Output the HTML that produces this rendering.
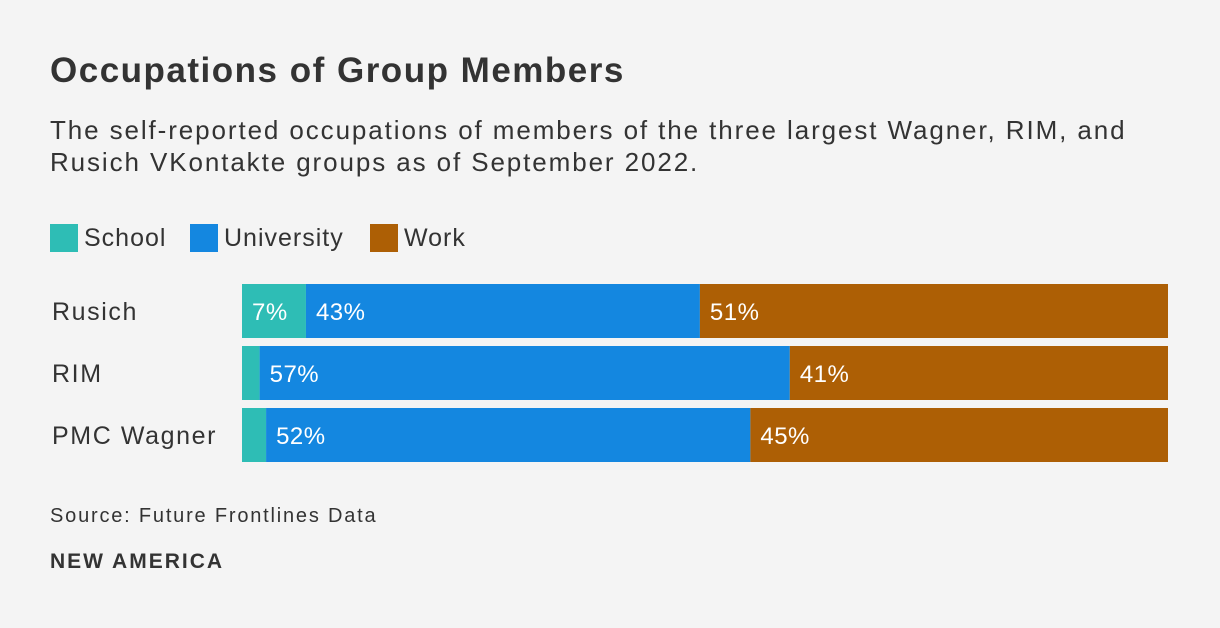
<!DOCTYPE html>
<html><head><meta charset="utf-8"><style>
body{margin:0;background:#f4f4f4;font-family:"Liberation Sans",sans-serif;color:#333;}
#wrap{position:relative;width:1220px;height:628px;overflow:hidden;}
.t{position:absolute;white-space:nowrap;}
</style></head><body>
<div id="wrap">
<div class="t" style="left:50px;top:51px;font-size:35px;letter-spacing:1.5px;font-weight:bold;color:#333;">Occupations of Group Members</div>
<div class="t" style="left:50px;top:114px;font-size:26px;letter-spacing:1.9px;line-height:32px;color:#333;">The self-reported occupations of members of the three largest Wagner, RIM, and<br>Rusich VKontakte groups as of September 2022.</div>
<svg id="chart" width="1220" height="628" style="position:absolute;left:0;top:0"></svg>
<div class="t" style="left:50px;top:505px;font-size:20px;letter-spacing:1.8px;color:#333;">Source: Future Frontlines Data</div>
<div class="t" style="left:50px;top:550px;font-size:21px;letter-spacing:2px;font-weight:bold;color:#333;">NEW AMERICA</div>
</div>
<script>
const categories=["Rusich","RIM","PMC Wagner"];
const seriesNames=["School","University","Work"];
const school=[6.9,1.9,2.6];
const university=[42.5,57.2,52.3];
const work=[50.5,40.8,45.1];
const colors=["#2ebdb5","#1487e0","#ad5f05"];
const NS="http://www.w3.org/2000/svg";
const svg=document.getElementById("chart");
const x0=242,x1=1168,yTop=284,bh=54,gap=8;
function mk(tag,attrs){const e=document.createElementNS(NS,tag);for(const k in attrs)e.setAttribute(k,attrs[k]);svg.appendChild(e);return e;}
const legendX=[50,190,370];
seriesNames.forEach((n,i)=>{
  const r=mk("rect",{x:legendX[i],y:224,width:28,height:28,fill:colors[i]});
  
  
  const t=mk("text",{x:legendX[i]+34,y:246,"font-size":25,"letter-spacing":1,fill:"#333","font-family":"Liberation Sans, sans-serif"});
  t.textContent=n;
  
  
});
const series=[school,university,work];
categories.forEach((c,ci)=>{
  const y=yTop+ci*(bh+gap);
  const lab=mk("text",{x:52,y:y+bh/2+9,"font-size":25,"letter-spacing":1.6,fill:"#333","font-family":"Liberation Sans, sans-serif"});
  lab.textContent=c;
  
  
  const total=series.reduce((s,a)=>s+a[ci],0);
  let acc=0;
  series.forEach((arr,si)=>{
    const v=arr[ci];
    const xa=x0+(x1-x0)*acc/total, xb=x0+(x1-x0)*(acc+v)/total;
    acc+=v;
    const r=mk("rect",{x:xa,y:y,width:xb-xa,height:bh,fill:colors[si]});
    
    
    if(v>=5){
      const t=mk("text",{x:xa+10,y:y+bh/2+9,"font-size":24,"letter-spacing":0.5,fill:"#fff","font-family":"Liberation Sans, sans-serif"});
      t.textContent=Math.round(v)+"%";
      
      
    }
  });
});
</script>
</body></html>
